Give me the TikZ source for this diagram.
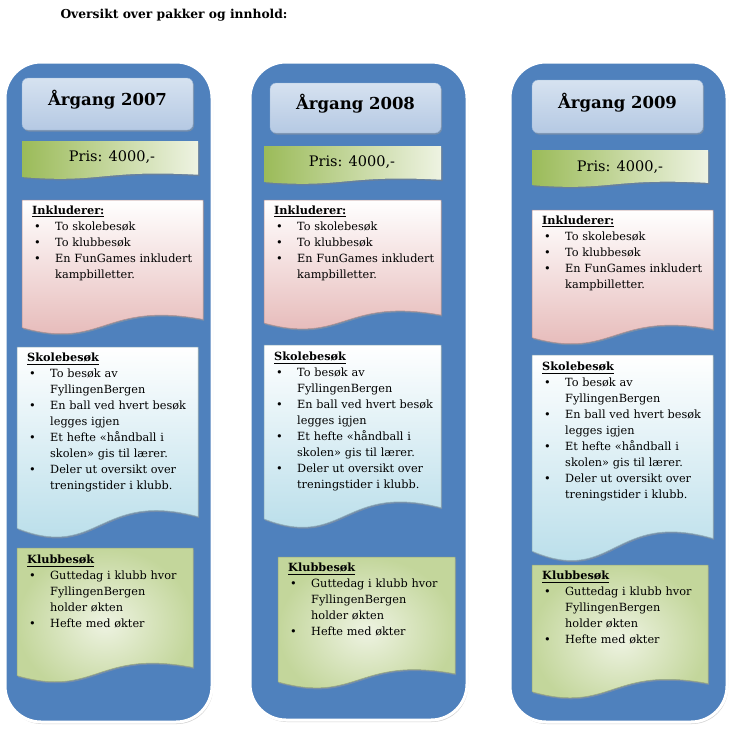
\documentclass[tikz,border=0pt]{standalone}
\usepackage{fontspec}
\setmainfont{DejaVu Serif}
\usetikzlibrary{shadows}
\definecolor{colblue}{HTML}{4F81BD}
\definecolor{ttop}{HTML}{D6E2F0}
\definecolor{tbot}{HTML}{B5C9E3}
\definecolor{gdark}{HTML}{9BBB59}
\definecolor{glight}{HTML}{EEF3E2}
\definecolor{pinkb}{HTML}{E4B4B3}
\definecolor{cyanb}{HTML}{B3DBE8}
\definecolor{kdark}{HTML}{C3D69B}
\tikzset{x=1pt,y=-1pt,
 column/.style={fill=colblue,draw=white,line width=3pt,rounded corners=36pt,
   drop shadow={shadow xshift=1pt,shadow yshift=-2pt,fill=black!35}},
 titlebox/.style={rounded corners=6pt,top color=ttop,bottom color=tbot,draw=colblue!60,
   drop shadow={shadow xshift=1pt,shadow yshift=-1.5pt,fill=black!40}},
 pris/.style={left color=gdark,right color=glight,drop shadow={shadow xshift=1.5pt,shadow yshift=-1.5pt,fill=black!50}},
 ink/.style={top color=white,bottom color=pinkb,draw=pinkb!80!black,line width=0.5pt,drop shadow={shadow xshift=1pt,shadow yshift=-1.5pt,fill=black!40}},
 skole/.style={top color=white,bottom color=cyanb,draw=cyanb!80!black,line width=0.5pt,drop shadow={shadow xshift=1pt,shadow yshift=-1.5pt,fill=black!40}},
 klubb/.style={inner color=glight,outer color=kdark,draw=kdark!80!black,line width=0.5pt,drop shadow={shadow xshift=1pt,shadow yshift=-1.5pt,fill=black!40}},
 body/.style={anchor=north west,inner sep=0pt,text width=#1,align=left,font=\fontsize{11.3}{16}\selectfont},
 big/.style={font=\fontsize{16.5}{20}\selectfont\bfseries},
 pristxt/.style={font=\fontsize{14.5}{18}\selectfont}
}
\newcommand{\docbox}[6]{% name x1 y1 x2 y2 style
 \pgfmathsetmacro{\dw}{#4-#2}\pgfmathsetmacro{\dd}{0.075*(#5-#3)}
 \path[#6] (#2,#3) -- (#4,#3) -- (#4,#5-1.8*\dd)
  .. controls (#2+0.45*\dw,#5-3.6*\dd) and (#2+0.45*\dw,#5+1.2*\dd) .. (#2,#5-1.0*\dd) -- cycle;
 \coordinate (#1) at (#2,#3);}
\newcommand{\itm}{\par\leftskip=23pt\noindent\llap{\makebox[23pt][l]{\hspace{2pt}\textbullet}}}
\newcommand{\hd}[1]{\hyphenpenalty=10000\exhyphenpenalty=10000\leftskip=0pt\noindent\textbf{\underline{#1}}}
\newcommand{\inktext}{\hd{Inkluderer:}\itm To skolebesøk\itm To klubbesøk\itm En FunGames inkludert kampbilletter.\par}
\newcommand{\skoletext}{\hd{Skolebesøk}\itm To besøk av\\FyllingenBergen\itm En ball ved hvert besøk legges igjen\itm Et hefte «håndball i skolen» gis til lærer.\itm Deler ut oversikt over treningstider i klubb.\par}
\newcommand{\klubbtext}{\hd{Klubbesøk}\itm Guttedag i klubb hvor FyllingenBergen\\holder økten\itm Hefte med økter\par}
\begin{document}
\begin{tikzpicture}
\useasboundingbox (0,0) rectangle (731,737);
\node[anchor=west,font=\fontsize{12.3}{14}\selectfont\bfseries] (head) at (57,15) {Oversikt over pakker og innhold:};
% columns
\draw[column] (5,62) rectangle (212,722);
\draw[column] (250,62) rectangle (467,720);
\draw[column] (510,62) rectangle (727,722);
% column 1
\draw[titlebox] (22,78) rectangle (193,130);
\node[big] (t1) at (107.5,100) {Årgang 2007};
\docbox{p1}{22}{141}{198}{180}{pris}
\node[pristxt] (pt1) at (112,157) {Pris: 4000,-};
\docbox{i1}{22}{200}{203}{338}{ink}
\node[body=165pt] (it1) at (32,206) {\inktext};
\docbox{s1}{17}{347}{198}{543}{skole}
\node[body=165pt] (st1) at (27,353) {\skoletext};
\docbox{k1}{17}{548}{193}{686}{klubb}
\node[body=160pt] (kt1) at (27,555) {\klubbtext};
% column 2
\draw[titlebox] (270,83) rectangle (441,133);
\node[big] (t2) at (355.5,104) {Årgang 2008};
\docbox{p2}{264}{146}{441}{185}{pris}
\node[pristxt] (pt2) at (352,162) {Pris: 4000,-};
\docbox{i2}{264}{200}{441}{333}{ink}
\node[body=165pt] (it2) at (274,206) {\inktext};
\docbox{s2}{264}{345}{441}{533}{skole}
\node[body=165pt] (st2) at (274,352) {\skoletext};
\docbox{k2}{278}{557}{455}{692}{klubb}
\node[body=165pt] (kt2) at (288,563) {\klubbtext};
% column 3
\draw[titlebox] (532,80) rectangle (703,133);
\node[big] (t3) at (617.5,103) {Årgang 2009};
\docbox{p3}{532}{150}{708}{188}{pris}
\node[pristxt] (pt3) at (620,167) {Pris: 4000,-};
\docbox{i3}{532}{210}{713}{348}{ink}
\node[body=165pt] (it3) at (542,216) {\inktext};
\docbox{s3}{532}{355}{713}{567}{skole}
\node[body=165pt] (st3) at (542,362) {\skoletext};
\docbox{k3}{532}{565}{708}{702}{klubb}
\node[body=165pt] (kt3) at (542,571) {\klubbtext};
\end{tikzpicture}
\end{document}
